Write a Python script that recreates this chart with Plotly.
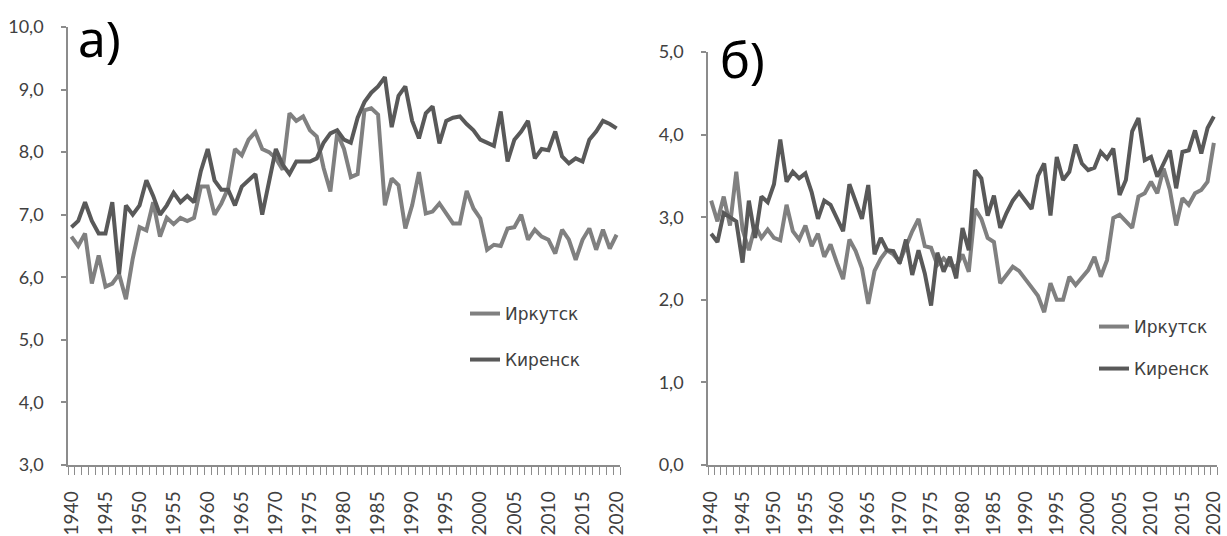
import plotly.graph_objects as go

years = list(range(1940, 2021))

# Panel a) mean annual values
irkutsk_a = [6.65, 6.5, 6.7, 5.9, 6.35, 5.85, 5.9, 6.05, 5.65, 6.3,
             6.8, 6.75, 7.2, 6.65, 6.95, 6.85, 6.95, 6.9, 6.95, 7.45,
             7.45, 7.0, 7.18, 7.42, 8.05, 7.95, 8.2, 8.32, 8.05, 8.0,
             7.9, 7.72, 8.62, 8.5, 8.57, 8.35, 8.25, 7.75, 7.37, 8.3,
             8.05, 7.6, 7.65, 8.67, 8.7, 8.6, 7.15, 7.58, 7.47, 6.78,
             7.15, 7.68, 7.02, 7.05, 7.18, 7.02, 6.86, 6.86, 7.38, 7.1,
             6.94, 6.44, 6.52, 6.5, 6.78, 6.8, 7.0, 6.6, 6.76, 6.65,
             6.6, 6.38, 6.76, 6.6, 6.28, 6.6, 6.78, 6.44, 6.76, 6.46,
             6.68]
kirensk_a = [6.8, 6.9, 7.2, 6.9, 6.7, 6.7, 7.2, 6.05, 7.15, 7.0,
             7.15, 7.55, 7.3, 7.0, 7.15, 7.35, 7.2, 7.3, 7.2, 7.7,
             8.05, 7.55, 7.4, 7.4, 7.15, 7.45, 7.55, 7.65, 7.0, 7.5,
             8.05, 7.8, 7.65, 7.85, 7.85, 7.85, 7.9, 8.15, 8.3, 8.35,
             8.2, 8.15, 8.55, 8.8, 8.95, 9.05, 9.2, 8.4, 8.9, 9.05,
             8.5, 8.22, 8.62, 8.73, 8.14, 8.5, 8.55, 8.57, 8.45, 8.35,
             8.2, 8.15, 8.1, 8.65, 7.85, 8.2, 8.33, 8.5, 7.9, 8.05,
             8.03, 8.33, 7.93, 7.82, 7.9, 7.85, 8.2, 8.33, 8.5, 8.45,
             8.38]

# Panel б)
irkutsk_b = [3.2, 2.95, 3.25, 2.9, 3.55, 2.85, 2.6, 2.9, 2.75, 2.85,
             2.75, 2.72, 3.15, 2.83, 2.73, 2.9, 2.65, 2.8, 2.52, 2.67,
             2.45, 2.25, 2.73, 2.59, 2.38, 1.95, 2.35, 2.5, 2.6, 2.55,
             2.46, 2.65, 2.83, 2.98, 2.65, 2.63, 2.42, 2.5, 2.42, 2.4,
             2.55, 2.34, 3.1, 2.98, 2.75, 2.7, 2.2, 2.3, 2.4, 2.35,
             2.24, 2.15, 2.05, 1.85, 2.2, 2.0, 2.0, 2.28, 2.18, 2.28,
             2.36, 2.52, 2.28, 2.48, 2.99, 3.03, 2.95, 2.87, 3.25, 3.29,
             3.43, 3.29, 3.59, 3.33, 2.9, 3.23, 3.15, 3.29, 3.33, 3.43,
             3.9]
kirensk_b = [2.8, 2.7, 3.05, 3.0, 2.95, 2.45, 3.2, 2.75, 3.25, 3.18,
             3.4, 3.94, 3.43, 3.55, 3.47, 3.53, 3.3, 2.98, 3.2, 3.15,
             3.0, 2.83, 3.4, 3.2, 2.98, 3.39, 2.55, 2.75, 2.6, 2.59,
             2.44, 2.73, 2.3, 2.6, 2.32, 1.93, 2.57, 2.34, 2.52, 2.26,
             2.87, 2.6, 3.57, 3.47, 3.02, 3.26, 2.87, 3.05, 3.2, 3.3,
             3.2, 3.1, 3.5, 3.65, 3.02, 3.73, 3.45, 3.55, 3.88, 3.65,
             3.57, 3.6, 3.79, 3.71, 3.83, 3.27, 3.45, 4.04, 4.2, 3.69,
             3.73, 3.49, 3.65, 3.81, 3.35, 3.79, 3.81, 4.05, 3.77, 4.08,
             4.22]

series_names = ["Иркутск", "Киренск"]
x_tick_years = list(range(1940, 2021, 5))
y_ticks_a = [3, 4, 5, 6, 7, 8, 9, 10]
y_ticks_b = [0, 1, 2, 3, 4, 5]
panel_labels = ["а)", "б)"]

W, H = 1227, 536
C_IRK = "#808080"
C_KIR = "#595959"
AX = "#8c8c8c"
TXT = "#404040"
TICK_FONT = "Lato"
LEG_FONT = "DejaVu Sans"
LBL_FONT = "Noto Sans"

def px(x):
    return x / W

def py(y):
    return 1 - y / H

fig = go.Figure()
fig.add_trace(go.Scatter(x=years, y=irkutsk_a, mode="lines", name=series_names[0],
                         line=dict(color=C_IRK, width=4), xaxis="x", yaxis="y", legend="legend"))
fig.add_trace(go.Scatter(x=years, y=kirensk_a, mode="lines", name=series_names[1],
                         line=dict(color=C_KIR, width=4), xaxis="x", yaxis="y", legend="legend2"))
fig.add_trace(go.Scatter(x=years, y=irkutsk_b, mode="lines", name=series_names[0],
                         line=dict(color=C_IRK, width=4), xaxis="x2", yaxis="y2", legend="legend3"))
fig.add_trace(go.Scatter(x=years, y=kirensk_b, mode="lines", name=series_names[1],
                         line=dict(color=C_KIR, width=4), xaxis="x2", yaxis="y2", legend="legend4"))

def xaxis_cfg(domain, anchor):
    return dict(domain=domain, anchor=anchor, range=[1939.5, 2020.5], automargin=False,
                tickmode="array", tickvals=x_tick_years, ticktext=[str(v) for v in x_tick_years],
                tickangle=-90, ticks="", showline=True, linecolor=AX, linewidth=1.5,
                showgrid=False, zeroline=False, ticklabelstandoff=17,
                ticklabeloverflow="allow",
                tickfont=dict(family=TICK_FONT, size=19, color=TXT),
                minor=dict(ticks="outside", tickvals=[y - 0.5 for y in years] + [2020.5],
                           ticklen=8, tickcolor=AX, tickwidth=1, showgrid=False))

def yaxis_cfg(domain, anchor, rng, vals):
    return dict(domain=domain, anchor=anchor, range=rng, tickmode="array", tickvals=vals,
                automargin=False, tickformat=".1f", ticks="outside", ticklen=5,
                tickcolor=AX, tickwidth=1.5,
                showline=True, linecolor=AX, linewidth=1.5, showgrid=False, zeroline=False,
                ticklabelstandoff=14, tickfont=dict(family=TICK_FONT, size=18, color=TXT))

def legend_cfg(x, y):
    return dict(x=px(x), y=py(y), xanchor="left", yanchor="middle", bgcolor="rgba(0,0,0,0)",
                font=dict(family=LEG_FONT, size=17, color=TXT), borderwidth=0)

fig.update_layout(
    template="none",
    width=W, height=H, margin=dict(l=0, r=0, t=0, b=0, autoexpand=False),
    paper_bgcolor="white", plot_bgcolor="white", separators=", ",
    showlegend=True,
    xaxis=xaxis_cfg([px(68), px(620)], "y"),
    yaxis=yaxis_cfg([py(465), py(27)], "x", [3, 10], y_ticks_a),
    xaxis2=xaxis_cfg([px(708), px(1217)], "y2"),
    yaxis2=yaxis_cfg([py(465), py(52)], "x2", [0, 5], y_ticks_b),
    legend=legend_cfg(465, 314),
    legend2=legend_cfg(465, 360),
    legend3=legend_cfg(1094, 327),
    legend4=legend_cfg(1094, 369),
)

fig.add_annotation(text=panel_labels[0], xref="paper", yref="paper", x=px(76), y=py(38),
                   xanchor="left", yanchor="middle", showarrow=False,
                   font=dict(family=LBL_FONT, size=50, color="#000000"))
fig.add_annotation(text=panel_labels[1], xref="paper", yref="paper", x=px(718), y=py(59),
                   xanchor="left", yanchor="middle", showarrow=False,
                   font=dict(family=LBL_FONT, size=50, color="#000000"))

fig.write_html("out.html", config={"displayModeBar": False},
               post_script="document.body.style.margin='0px';document.body.style.overflow='hidden';")
